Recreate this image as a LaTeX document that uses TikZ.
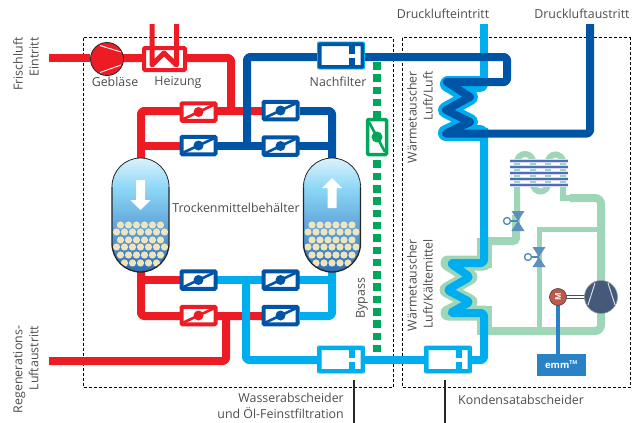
\documentclass[tikz,border=0pt]{standalone}
\usepackage{fontspec}
\setmainfont{Open Sans}
\definecolor{red1}{HTML}{ED1C24}
\definecolor{dblue}{HTML}{0054A6}
\definecolor{lblue}{HTML}{00AEEF}
\definecolor{mint}{HTML}{A0D6B8}
\definecolor{gbyp}{HTML}{00A65A}
\definecolor{txt}{HTML}{4D4D4D}
\definecolor{t1}{HTML}{DCF2FC}
\definecolor{t2}{HTML}{8DD8F6}
\definecolor{t3}{HTML}{69AEE0}
\definecolor{t4}{HTML}{2F6CB2}
\definecolor{ball}{HTML}{EFE4BC}
\definecolor{fin}{HTML}{4A70B8}
\definecolor{slate}{HTML}{45597A}
\definecolor{motor}{HTML}{C0584A}
\definecolor{emmb}{HTML}{2A82C6}
\definecolor{vlv}{HTML}{5F8FBC}
\pgfdeclareverticalshading{tankshade}{100bp}{color(0bp)=(t4); color(25bp)=(t4); color(48bp)=(t3); color(62bp)=(t2); color(75bp)=(t1); color(100bp)=(t1)}
\tikzset{
 pipe/.style={line width=#1,line join=round,rounded corners=3pt},
 pipe/.default=8pt,
 lbl/.style={text=txt,font=\fontsize{12.4}{16}\selectfont,inner sep=0pt},
 rlbl/.style={lbl,rotate=90,align=right},
 frame/.style={densely dashed,line width=.7pt,black},
 leader/.style={line width=1.6pt,black!85},
}
\newcommand{\valvebox}[5]{%
 \node[draw=#4,fill=white,line width=4pt,rounded corners=1pt,minimum width=#5,minimum height=17.5pt,inner sep=0pt] (#1) at (#2,#3) {};
 \draw[#4,line width=2.6pt] ($(#1.center)+(-15,7)$) -- ($(#1.center)+(15,-7)$);
 \fill[#4] (#1.center) circle (5pt);}
\newcommand{\filterbox}[5]{%
 \node[draw=#4,fill=white,line width=4pt,rounded corners=1pt,minimum width=43pt,minimum height=23pt,inner sep=0pt] (#1) at (#2,#3) {};
 \fill[#4] ($(#1.center)+(8,-12)$) rectangle ($(#1.center)+(14,-2)$);
 \fill[#4] ($(#1.center)+(8,2)$) rectangle ($(#1.center)+(14,12)$);
 \draw[#5,line width=.9pt,rounded corners=1pt] (#1.south west) rectangle (#1.north east);}
\newcommand{\drawtank}[2]{%
 \coordinate (#1top) at (#2,158);
 \coordinate (#1bot) at (#2,272);
 \shade[shading=tankshade] (#2-28.5,186.5) arc[start angle=180,end angle=360,radius=28.5] -- (#2+28.5,243.5) arc[start angle=0,end angle=180,radius=28.5] -- cycle;
 \foreach \ry/\oo in {225/{-20,-12,-4,4,12,20},232/{-24,-16,-8,0,8,16,24},240/{-20,-12,-4,4,12,20},247/{-24,-16,-8,0,8,16,24},255/{-20,-12,-4,4,12,20},263/{-16,-8,0,8,16}}
  {\foreach \o in \oo {\fill[ball] (#2+\o,\ry) circle (3.6pt);}}
 \draw[black!85,line width=.8pt] (#2-28.5,186.5) arc[start angle=180,end angle=360,radius=28.5];
 \draw[black!85,line width=1.3pt] (#2-28.5,186.5) -- (#2-28.5,243.5) arc[start angle=180,end angle=0,radius=28.5] -- (#2+28.5,186.5);}
\newcommand{\expvalve}[2]{%
 \fill[vlv] (#1,#2) -- (#1-6.5,#2-10) -- (#1+6.5,#2-10) -- cycle;
 \fill[vlv] (#1,#2) -- (#1-6.5,#2+10) -- (#1+6.5,#2+10) -- cycle;
 \draw[vlv!80!teal,line width=1.3pt,fill=white] (#1-11,#2) circle (3.5pt);
 \draw[vlv!80!teal,line width=1.3pt] (#1-7.5,#2) -- (#1,#2);}
\usetikzlibrary{calc}
\begin{document}
\begin{tikzpicture}[x=1pt,y=-1pt]
\useasboundingbox (0,0) rectangle (633,423);
\draw[frame] (83,37.5) rectangle (393,387);
\draw[frame] (402,37.5) rectangle (630,387);
\coordinate (inA) at (49,58);
\coordinate (outR) at (49,361);
\coordinate (dIn) at (484,24);
\coordinate (dOut) at (590,24);
% bypass
\draw[gbyp,line width=7.5pt,dash pattern=on 7.5pt off 4.8pt] (377,62) -- (377,356);
\coordinate (byv) at (377,137);
\node[draw=gbyp,fill=white,line width=3.5pt,rounded corners=1pt,minimum width=19pt,minimum height=35pt,inner sep=0pt] (bypassv) at (byv) {};
\draw[gbyp,line width=2.6pt] ($(bypassv.center)+(-8,-15)$) -- ($(bypassv.center)+(8,15)$);
\fill[gbyp] (bypassv.center) circle (5.5pt);
% refrigerant
\draw[mint,line width=8pt,rounded corners=3pt] (484,241) -- (516,241) -- (516,215);
\draw[mint,line width=15pt,rounded corners=3pt] (484,238) -- (484,268);
\draw[mint,line width=15pt,rounded corners=3pt] (484,306) -- (484,335);
\draw[mint,line width=8pt,rounded corners=6pt] (484,331) -- (601,331) -- (601,198) -- (570,198);
\draw[mint,line width=5pt] (539,331) -- (539,229) -- (601,229);
\draw[mint,line width=6pt] (517,215) -- (517,162) arc[start angle=180,end angle=360,radius=8] -- (533,184) arc[start angle=180,end angle=0,radius=7.5] -- (548,162) arc[start angle=180,end angle=360,radius=7.5] -- (563,198) -- (570,198);
\foreach \yy in {161,167,173,179,185} {
 \draw[white!85!blue,line width=3.6pt] (510,\yy) -- (568,\yy);
 \draw[fin,line width=1.8pt] (510,\yy) -- (568,\yy);}
\expvalve{518}{221}
\expvalve{539}{257}
% lower HX
\draw[mint,line width=15pt,line join=round,line cap=round] (484,263) -- (448,263) -- (470,277) -- (447,290) -- (470,302) -- (448,313) -- (484,313);
% light blue main
\draw[lblue,pipe] (dIn) -- (484,86);
\draw[lblue,pipe] (484,128) -- (484,263) -- (450,263) -- (470,277) -- (447,290) -- (470,302) -- (450,313) -- (484,313) -- (484,360) -- (472,360);
% upper HX
\draw[lblue,line width=16pt,line join=round,line cap=round] (480,84) -- (448,84) -- (470,97) -- (446,110) -- (470,122) -- (446,133) -- (480,133);
% red upper
\draw[red1,pipe] (inA) -- (90,58);
\draw[red1,pipe] (120,58) -- (231,58) -- (231,111);
\draw[red1,pipe] (141,165) -- (141,111) -- (262,111);
\draw[red1,pipe] (141,146) -- (180,146);
% red lower
\draw[red1,pipe] (141,268) -- (141,316) -- (262,316);
\draw[red1,pipe] (141,280) -- (180,280);
\draw[red1,pipe] (226,316) -- (226,361) -- (outR);
% dark blue
\draw[dblue,pipe] (217,145.5) -- (332,145.5);
\draw[dblue,pipe] (300,111) -- (332,111) -- (332,165);
\draw[dblue,pipe] (247,146) -- (247,57) -- (318,57);
% light blue tank pipes
\draw[lblue,pipe] (217,280) -- (332,280);
\draw[lblue,pipe] (300,316) -- (332,316) -- (332,268);
\draw[lblue,pipe] (246,280) -- (246,360) -- (318,360);
\draw[lblue,pipe] (365,360) -- (424,360);
% upper dark pipe & HX
\draw[dblue,pipe] (364,57) -- (507,57) -- (507,82) -- (447,82);
\draw[dblue,line width=8pt,line join=round,line cap=round] (447,82) -- (470,97) -- (446,110) -- (470,122) -- (446,133.5);
\draw[dblue,pipe] (446,133.5) -- (590,133.5) -- (dOut);
% tanks
\drawtank{tl}{140.5}
\drawtank{tr}{332}
\fill[white] (136,180) -- (145,180) -- (145,200) -- (150.5,200) -- (140.5,210) -- (130.5,200) -- (136,200) -- cycle;
\fill[white] (327.5,208) -- (336.5,208) -- (336.5,188) -- (342,188) -- (332,178) -- (322,188) -- (327.5,188) -- cycle;
% valves
\valvebox{v1}{198.5}{112}{red1}{34pt}
\valvebox{v2}{198.5}{145.5}{dblue}{34pt}
\valvebox{v3}{280.5}{110.5}{dblue}{34pt}
\valvebox{v4}{280.5}{146}{dblue}{34pt}
\valvebox{v5}{198.5}{280}{dblue}{34pt}
\valvebox{v6}{198.5}{315.5}{red1}{34pt}
\valvebox{v7}{280.5}{280}{dblue}{34pt}
\valvebox{v8}{280.5}{315.5}{dblue}{34pt}
% filters
\filterbox{f1}{341}{55.5}{dblue}{lblue}
\filterbox{f2}{341}{359.5}{lblue}{lblue}
\filterbox{f3}{448}{359.5}{lblue}{lblue}
% blower
\node[circle,draw=black!85,line width=.8pt,fill=red1,minimum size=33pt,inner sep=0pt] (blower) at (107,59) {};
\draw[white,line width=.9pt] (100,45.5) -- (121,52) (100,72.5) -- (121,65);
% heater
\node[draw=red1,fill=white,line width=4pt,rounded corners=1pt,minimum width=41pt,minimum height=22pt,inner sep=0pt] (heater) at (164.5,59) {};
\draw[red1,line width=5pt,line join=round,line cap=butt] (152,24) -- (152,65) -- (164,53) -- (176.5,65) -- (176.5,24);
% compressor, motor
\draw[black!70,line width=3.6pt] (565,297) -- (586,297);
\draw[white,line width=1.6pt] (565,297) -- (586,297);
\draw[emmb,line width=4pt] (558,300) -- (558,356);
\node[circle,fill=slate,draw=black!40,line width=.6pt,minimum size=33pt,inner sep=0pt] (comp) at (601,297) {};
\draw[white!80!slate,line width=1pt] (595,283) -- (588,305) (608,283) -- (615,305);
\node[circle,fill=motor,draw=black!70,line width=.7pt,minimum size=17pt,inner sep=0pt,text=white,font=\bfseries\fontsize{8}{8}\selectfont] (mot) at (558,297) {\rotatebox{90}{M}};
\node[fill=emmb,minimum width=49pt,minimum height=22pt,inner sep=0pt,text=white,font=\bfseries\fontsize{9.5}{10}\selectfont] (emm) at (561.5,365) {emm\textsuperscript{\scalebox{.8}{TM}}};
% leaders
\coordinate (l1a) at (354,380);\coordinate (l1b) at (354,423);
\coordinate (l2a) at (445,380);\coordinate (l2b) at (445,423);
\draw[leader] (l1a) -- (l1b) (l2a) -- (l2b);
% labels
\node[rlbl] (a1) at (26,64) {Frischluft\\Eintritt};
\node[rlbl] (a2) at (26,369.5) {Regenerations-\\Luftaustritt};
\node[lbl] (a3) at (115,82) {Gebläse};
\node[lbl] (a4) at (178,82) {Heizung};
\node[lbl] (a5) at (338,82) {Nachfilter};
\node[lbl] (a6) at (443,14) {Drucklufteintritt};
\node[lbl] (a7) at (582,14) {Druckluftaustritt};
\node[lbl] (a8) at (236,208) {Trockenmittelbehälter};
\node[lbl,rotate=90] (a9) at (362,298) {Bypass};
\node[rlbl] (a10) at (420,117) {Wärmetauscher\\Luft/Luft};
\node[rlbl] (a11) at (420,285) {Wärmetauscher\\Luft/Kältemittel};
\node[lbl,align=right,anchor=north east] (a12) at (344,392.5) {Wasserabscheider\\und Öl-Feinstfiltration};
\node[lbl,anchor=west] (a13) at (458,400) {Kondensatabscheider};
\end{tikzpicture}
\end{document}
